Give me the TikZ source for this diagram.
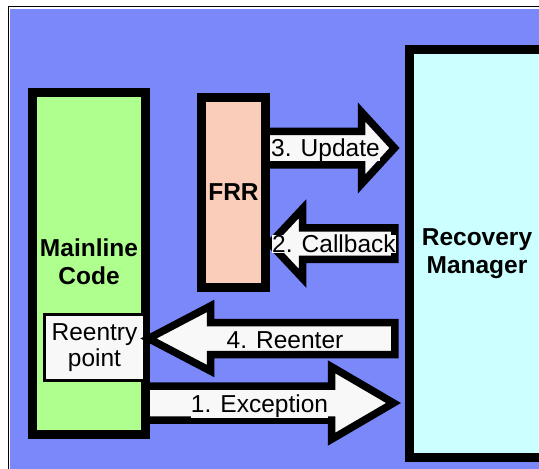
\documentclass[tikz,border=0pt]{standalone}
\usepackage{fontspec}
\setmainfont{Liberation Sans}
\usetikzlibrary{calc}
\definecolor{bluebg}{RGB}{122,136,250}
\definecolor{greenfill}{RGB}{175,255,143}
\definecolor{cyanfill}{RGB}{204,255,255}
\definecolor{frrfill}{RGB}{250,204,186}
\definecolor{offwhite}{RGB}{248,248,248}
\pgfdeclarelayer{bg}
\pgfdeclarelayer{back}
\pgfsetlayers{bg,back,main}
% tail, tip, head length, shaft half, head half
\newcommand{\fatarrow}[5]{\draw[fat] ($(#1)+(0,-#4)$) -- ($(#2)!#3!(#1)+(0,-#4)$) -- ($(#2)!#3!(#1)+(0,-#5)$) -- (#2) -- ($(#2)!#3!(#1)+(0,#5)$) -- ($(#2)!#3!(#1)+(0,#4)$) -- ($(#1)+(0,#4)$) -- cycle;}
\tikzset{
  box/.style={draw=black, line width=9pt, inner sep=0pt, align=center, font=\bfseries\fontsize{24.5}{28}\selectfont},
  entrybox/.style={draw=black, line width=3pt, fill=offwhite, inner sep=0pt, align=center, font=\fontsize{24.5}{26}\selectfont},
  fat/.style={draw=black, line width=7.5pt, fill=offwhite, line join=miter},
  lbl/.style={fill=offwhite, inner sep=0pt, font=\fontsize{24.5}{28}\selectfont},
}
\begin{document}
\begin{tikzpicture}[x=1pt,y=-1pt]
        \useasboundingbox (0,0) rectangle (539,469);
        \clip (0,0) rectangle (539,469);

        % background
        \begin{pgfonlayer}{bg}
        \fill[white] (0,0) rectangle (539,469);
        \draw[line width=1pt] (8.3,6) rectangle (560,490);
        \fill[bluebg] (10,9) rectangle (560,490);
        \end{pgfonlayer}

        % boxes
        \node[box, fill=cyanfill, minimum width=135pt, minimum height=408pt] (rm) at (477,253.5) {Recovery\\Manager};
        \node[box, fill=frrfill, minimum width=64pt, minimum height=190pt] (frr) at (233.5,192.5) {FRR};
        \node[box, fill=greenfill, minimum width=113pt, minimum height=342pt, text depth=4pt] (main) at (89,263.5) {Mainline\\Code};
        \node[entrybox, minimum width=100pt, minimum height=66pt] (reentry) at (94.5,347.5) {Reentry\\point};

        % arrow levels
        \coordinate (yupd) at (0,148);
        \coordinate (ycb) at (0,243.5);
        \coordinate (yre) at (0,338.5);
        \coordinate (yex) at (0,403);

        \coordinate (updtail) at (frr.center |- yupd);
        \coordinate (updtip) at ($(rm.west |- yupd)+(-10.5,0)$);
        \coordinate (cbtail) at ($(rm.west |- ycb)+(-10.25,0)$);
        \coordinate (cbtip) at (frr.east |- ycb);
        \coordinate (retail) at ($(rm.west |- yre)+(-10.25,0)$);
        \coordinate (retip) at ($(reentry.east |- yre)+(2.5,0)$);
        \coordinate (extail) at (main.center |- yex);
        \coordinate (extip) at ($(rm.west |- yex)+(-11.5,0)$);

        % arrows
        \begin{pgfonlayer}{back}
        \fatarrow{updtail}{updtip}{33pt}{16.75}{36}
        \fatarrow{cbtail}{cbtip}{32.5pt}{15.75}{34.75}
        \fatarrow{extail}{extip}{62pt}{17}{36.25}
        \end{pgfonlayer}
        \fatarrow{retail}{retip}{62pt}{16}{32.5}

        % labels
        \node[lbl, anchor=base] (lupd) at (325.5,156) {3. Update};
        \node[lbl, anchor=base west] (lcb) at (272,252.7) {2. Callback};
        \node[lbl, anchor=base] (lre) at (285,348) {4. Reenter};
        \node[lbl, anchor=base] (lex) at (259.5,412.7) {1. Exception};
\end{tikzpicture}
\end{document}
